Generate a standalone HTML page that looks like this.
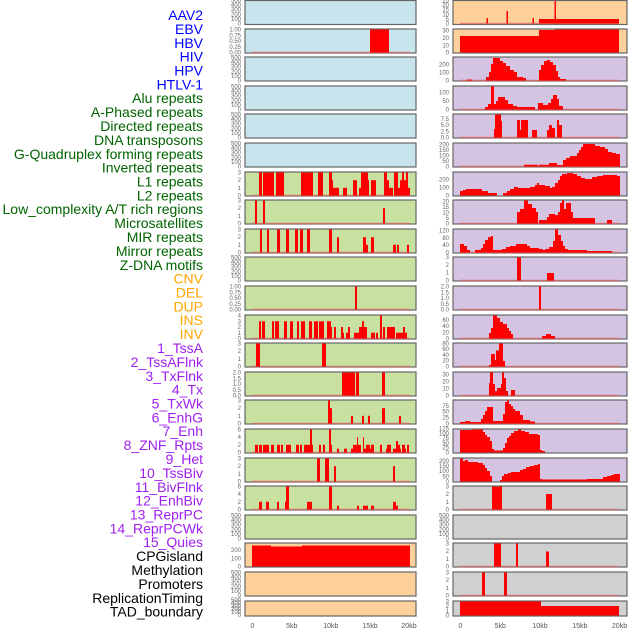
<!DOCTYPE html>
<html><head><meta charset="utf-8"><style>
html,body{margin:0;padding:0;background:#fff}
svg{display:block}
.l{font-family:"Liberation Sans",sans-serif;font-size:14px;text-anchor:end}
.t{font-family:"Liberation Sans",sans-serif;font-size:6px;fill:#666;text-anchor:end}
.x{font-family:"Liberation Sans",sans-serif;font-size:7px;fill:#555;text-anchor:middle}
.b{fill:#0000ff}.g{fill:#006400}.o{fill:#ffa500}.p{fill:#a020f0}.k{fill:#000}
.pb{stroke:#666;stroke-width:1.2}
.cb{fill:#c8e4ec}.cg{fill:#c8e0a0}.co{fill:#fdd09c}.cp{fill:#d5c4e1}.cy{fill:#d0d0d0}
.r{fill:#ff0000}
.bl{stroke:#e06060;stroke-width:1.5;opacity:.7}
</style></head><body>
<svg width="630" height="630" viewBox="0 0 630 630" xmlns="http://www.w3.org/2000/svg">
<!-- labels -->
<g class="l">
<text x="203" y="20" class="b">AAV2</text>
<text x="203" y="34" class="b">EBV</text>
<text x="203" y="48" class="b">HBV</text>
<text x="203" y="61.5" class="b">HIV</text>
<text x="203" y="75.5" class="b">HPV</text>
<text x="203" y="89.5" class="b">HTLV-1</text>
<text x="203" y="103" class="g">Alu repeats</text>
<text x="203" y="117" class="g">A-Phased repeats</text>
<text x="203" y="131" class="g">Directed repeats</text>
<text x="203" y="145" class="g">DNA transposons</text>
<text x="203" y="159" class="g">G-Quadruplex forming repeats</text>
<text x="203" y="172.5" class="g">Inverted repeats</text>
<text x="203" y="186.5" class="g">L1 repeats</text>
<text x="203" y="200.5" class="g">L2 repeats</text>
<text x="203" y="214" class="g">Low_complexity A/T rich regions</text>
<text x="203" y="228" class="g">Microsatellites</text>
<text x="203" y="242" class="g">MIR repeats</text>
<text x="203" y="256" class="g">Mirror repeats</text>
<text x="203" y="270" class="g">Z-DNA motifs</text>
<text x="203" y="283.5" class="o">CNV</text>
<text x="203" y="297.5" class="o">DEL</text>
<text x="203" y="311.5" class="o">DUP</text>
<text x="203" y="325" class="o">INS</text>
<text x="203" y="339" class="o">INV</text>
<text x="203" y="353" class="p">1_TssA</text>
<text x="203" y="367" class="p">2_TssAFlnk</text>
<text x="203" y="381" class="p">3_TxFlnk</text>
<text x="203" y="394.5" class="p">4_Tx</text>
<text x="203" y="408.5" class="p">5_TxWk</text>
<text x="203" y="422.5" class="p">6_EnhG</text>
<text x="203" y="436" class="p">7_Enh</text>
<text x="203" y="450" class="p">8_ZNF_Rpts</text>
<text x="203" y="464" class="p">9_Het</text>
<text x="203" y="478" class="p">10_TssBiv</text>
<text x="203" y="492" class="p">11_BivFlnk</text>
<text x="203" y="505.5" class="p">12_EnhBiv</text>
<text x="203" y="519.5" class="p">13_ReprPC</text>
<text x="203" y="533.5" class="p">14_ReprPCWk</text>
<text x="203" y="547" class="p">15_Quies</text>
<text x="203" y="561" class="k">CPGisland</text>
<text x="203" y="575" class="k">Methylation</text>
<text x="203" y="589" class="k">Promoters</text>
<text x="203" y="603" class="k">ReplicationTiming</text>
<text x="203" y="616.5" class="k">TAD_boundary</text>
</g>

<!-- left panel backgrounds -->
<g class="pb">
<rect x="245" y="0.5" width="171" height="24" class="cb"/>
<rect x="245" y="29" width="171" height="24" class="cb"/>
<rect x="245" y="57" width="171" height="24" class="cb"/>
<rect x="245" y="86" width="171" height="24" class="cb"/>
<rect x="245" y="114" width="171" height="24" class="cb"/>
<rect x="245" y="143" width="171" height="24" class="cb"/>
<rect x="245" y="172" width="171" height="24" class="cg"/>
<rect x="245" y="200" width="171" height="24" class="cg"/>
<rect x="245" y="229" width="171" height="24" class="cg"/>
<rect x="245" y="257" width="171" height="24" class="cg"/>
<rect x="245" y="286" width="171" height="24" class="cg"/>
<rect x="245" y="315" width="171" height="24" class="cg"/>
<rect x="245" y="343" width="171" height="24" class="cg"/>
<rect x="245" y="372" width="171" height="24" class="cg"/>
<rect x="245" y="400" width="171" height="24" class="cg"/>
<rect x="245" y="429" width="171" height="24" class="cg"/>
<rect x="245" y="458" width="171" height="24" class="cg"/>
<rect x="245" y="486" width="171" height="24" class="cg"/>
<rect x="245" y="515" width="171" height="24" class="cg"/>
<rect x="245" y="543" width="171" height="24" class="co"/>
<rect x="245" y="572" width="171" height="24" class="co"/>
<rect x="245" y="601" width="171" height="15" class="co"/>
</g>
<!-- right panel backgrounds -->
<g class="pb">
<rect x="453" y="0.5" width="174" height="24" class="co"/>
<rect x="453" y="29" width="174" height="24" class="co"/>
<rect x="453" y="57" width="174" height="24" class="cp"/>
<rect x="453" y="86" width="174" height="24" class="cp"/>
<rect x="453" y="114" width="174" height="24" class="cp"/>
<rect x="453" y="143" width="174" height="24" class="cp"/>
<rect x="453" y="172" width="174" height="24" class="cp"/>
<rect x="453" y="200" width="174" height="24" class="cp"/>
<rect x="453" y="229" width="174" height="24" class="cp"/>
<rect x="453" y="257" width="174" height="24" class="cp"/>
<rect x="453" y="286" width="174" height="24" class="cp"/>
<rect x="453" y="315" width="174" height="24" class="cp"/>
<rect x="453" y="343" width="174" height="24" class="cp"/>
<rect x="453" y="372" width="174" height="24" class="cp"/>
<rect x="453" y="400" width="174" height="24" class="cp"/>
<rect x="453" y="429" width="174" height="24" class="cp"/>
<rect x="453" y="458" width="174" height="24" class="cp"/>
<rect x="453" y="486" width="174" height="24" class="cy"/>
<rect x="453" y="515" width="174" height="24" class="cy"/>
<rect x="453" y="543" width="174" height="24" class="cy"/>
<rect x="453" y="572" width="174" height="24" class="cy"/>
<rect x="453" y="601" width="174" height="15" class="cy"/>
</g>

<!-- baselines -->
<g class="bl">
<line x1="252" x2="410" y1="52.5" y2="52.5"/>
<line x1="252" x2="410" y1="195.5" y2="195.5"/>
<line x1="252" x2="410" y1="223.5" y2="223.5"/>
<line x1="252" x2="410" y1="252.5" y2="252.5"/>
<line x1="252" x2="410" y1="309.5" y2="309.5"/>
<line x1="252" x2="410" y1="338.5" y2="338.5"/>
<line x1="252" x2="410" y1="366.5" y2="366.5"/>
<line x1="252" x2="410" y1="395.5" y2="395.5"/>
<line x1="252" x2="410" y1="423.5" y2="423.5"/>
<line x1="252" x2="410" y1="452.5" y2="452.5"/>
<line x1="252" x2="410" y1="481.5" y2="481.5"/>
<line x1="252" x2="410" y1="509.5" y2="509.5"/>
<line x1="460" x2="619" y1="23.5" y2="23.5"/>
<line x1="460" x2="619" y1="80.5" y2="80.5"/>
<line x1="460" x2="619" y1="109.5" y2="109.5"/>
<line x1="460" x2="619" y1="137.5" y2="137.5"/>
<line x1="460" x2="619" y1="166.5" y2="166.5"/>
<line x1="460" x2="619" y1="223.5" y2="223.5"/>
<line x1="460" x2="619" y1="252.5" y2="252.5"/>
<line x1="460" x2="619" y1="280.5" y2="280.5"/>
<line x1="460" x2="619" y1="309.5" y2="309.5"/>
<line x1="460" x2="619" y1="338.5" y2="338.5"/>
<line x1="460" x2="619" y1="366.5" y2="366.5"/>
<line x1="460" x2="619" y1="395.5" y2="395.5"/>
<line x1="460" x2="619" y1="423.5" y2="423.5"/>
<line x1="460" x2="619" y1="509.5" y2="509.5"/>
<line x1="460" x2="619" y1="566.5" y2="566.5"/>
<line x1="460" x2="619" y1="595.5" y2="595.5"/>
</g>

<!-- LEFT DATA -->
<g class="r">
<!-- EBV -->
<rect x="370" y="29.5" width="19" height="23"/>
<!-- row6 (top172,B195.5, unit7.67) -->
<rect x="259" y="172.5" width="3" height="23"/>
<rect x="263" y="172.5" width="11" height="23"/>
<rect x="276" y="172.5" width="8" height="23"/>
<rect x="301" y="172.5" width="12" height="23"/>
<rect x="318" y="172.5" width="5" height="23"/>
<rect x="329" y="172.5" width="3" height="23"/>
<rect x="332" y="180.2" width="1" height="15.3"/>
<rect x="333" y="187.8" width="6" height="7.7"/>
<rect x="343" y="187.8" width="4" height="7.7"/>
<rect x="353" y="180.2" width="4" height="15.3"/>
<rect x="359" y="187.8" width="2" height="7.7"/>
<rect x="361" y="172.5" width="7" height="23"/>
<rect x="368" y="180.2" width="1" height="15.3"/>
<rect x="371" y="180.2" width="5" height="15.3"/>
<rect x="384" y="172.5" width="3" height="23"/>
<rect x="387" y="180.2" width="2" height="15.3"/>
<rect x="389" y="187.8" width="4" height="7.7"/>
<rect x="394" y="172.5" width="4" height="23"/>
<rect x="398" y="187.8" width="2" height="7.7"/>
<rect x="400" y="180.2" width="2" height="15.3"/>
<rect x="402" y="172.5" width="2" height="23"/>
<rect x="404" y="180.2" width="2" height="15.3"/>
<rect x="406" y="172.5" width="2" height="23"/>
<rect x="408" y="187.8" width="2" height="7.7"/>
<!-- row7 -->
<rect x="255" y="200.5" width="2" height="23"/>
<rect x="263" y="200.5" width="2" height="23"/>
<rect x="383" y="208.2" width="2" height="15.3"/>
<!-- row8 -->
<rect x="260" y="229.5" width="2" height="23"/>
<rect x="267" y="229.5" width="2" height="23"/>
<rect x="277" y="229.5" width="3" height="23"/>
<rect x="286" y="229.5" width="3" height="23"/>
<rect x="295" y="229.5" width="3" height="23"/>
<rect x="300" y="229.5" width="3" height="23"/>
<rect x="307" y="229.5" width="3" height="23"/>
<rect x="329" y="229.5" width="3" height="23"/>
<rect x="337" y="237.2" width="2" height="15.3"/>
<rect x="363" y="237.2" width="3" height="15.3"/>
<rect x="366" y="244.8" width="2" height="7.7"/>
<rect x="371" y="237.2" width="3" height="15.3"/>
<rect x="393" y="244.8" width="3" height="7.7"/>
<rect x="397" y="244.8" width="2" height="7.7"/>
<rect x="407" y="244.8" width="2" height="7.7"/>
<!-- row10 -->
<rect x="355" y="286.5" width="2" height="23"/>
<!-- row11 (top315,B338.5,unit5.75) -->
<rect x="259" y="321.25" width="2" height="17.25"/>
<rect x="262" y="321.25" width="3" height="17.25"/>
<rect x="272" y="321.25" width="2" height="17.25"/>
<rect x="275" y="321.25" width="4" height="17.25"/>
<rect x="284" y="321.25" width="3" height="17.25"/>
<rect x="290" y="321.25" width="3" height="17.25"/>
<rect x="297" y="321.25" width="2" height="17.25"/>
<rect x="301" y="321.25" width="4" height="17.25"/>
<rect x="309" y="321.25" width="3" height="17.25"/>
<rect x="314" y="321.25" width="4" height="17.25"/>
<rect x="319" y="321.25" width="5" height="17.25"/>
<rect x="327" y="321.25" width="4" height="17.25"/>
<rect x="331" y="327" width="1" height="11.5"/>
<rect x="334" y="327" width="2" height="11.5"/>
<rect x="341" y="327" width="2" height="11.5"/>
<rect x="343" y="332.75" width="1" height="5.75"/>
<rect x="346" y="332.75" width="2" height="5.75"/>
<rect x="348" y="327" width="2" height="11.5"/>
<rect x="354" y="332.75" width="2" height="5.75"/>
<rect x="356" y="332.75" width="3" height="5.75"/>
<rect x="359" y="327" width="3" height="11.5"/>
<rect x="362" y="321.25" width="2" height="17.25"/>
<rect x="364" y="327" width="3" height="11.5"/>
<rect x="371" y="332.75" width="4" height="5.75"/>
<rect x="376" y="332.75" width="2" height="5.75"/>
<rect x="380" y="315.5" width="2" height="23"/>
<rect x="383" y="327" width="2" height="11.5"/>
<rect x="387" y="327" width="8" height="11.5"/>
<rect x="396" y="332.75" width="7" height="5.75"/>
<rect x="403" y="327" width="2" height="11.5"/>
<rect x="405" y="332.75" width="2" height="5.75"/>
<!-- row12 -->
<rect x="256" y="343.5" width="4" height="23"/>
<rect x="322" y="343.5" width="4" height="23"/>
<!-- row13 -->
<rect x="342" y="372.5" width="13" height="23"/>
<rect x="356" y="372.5" width="3" height="23"/>
<rect x="382" y="372.5" width="3" height="23"/>
<!-- row14 -->
<rect x="328" y="400.5" width="2" height="23"/>
<rect x="330" y="408.2" width="2" height="15.3"/>
<rect x="351" y="415.8" width="2" height="7.7"/>
<rect x="362" y="415.8" width="2" height="7.7"/>
<rect x="368" y="415.8" width="2" height="7.7"/>
<rect x="382" y="408.2" width="3" height="15.3"/>
<rect x="399" y="415.8" width="2" height="7.7"/>
<!-- row15 (top429,B452.5,unit3.83) -->
<rect x="255" y="444.8" width="3" height="7.7"/>
<rect x="259" y="444.8" width="3" height="7.7"/>
<rect x="263" y="444.8" width="6" height="7.7"/>
<rect x="271" y="444.8" width="3" height="7.7"/>
<rect x="277" y="444.8" width="3" height="7.7"/>
<rect x="281" y="444.8" width="2" height="7.7"/>
<rect x="286" y="444.8" width="5" height="7.7"/>
<rect x="296" y="444.8" width="3" height="7.7"/>
<rect x="300" y="444.8" width="2" height="7.7"/>
<rect x="304" y="444.8" width="6" height="7.7"/>
<rect x="310" y="429.5" width="2" height="23"/>
<rect x="312" y="444.8" width="1" height="7.7"/>
<rect x="319" y="444.8" width="2" height="7.7"/>
<rect x="323" y="444.8" width="2" height="7.7"/>
<rect x="329" y="429.5" width="2" height="23"/>
<rect x="331" y="444.8" width="1" height="7.7"/>
<rect x="337" y="448.7" width="2" height="3.8"/>
<rect x="344" y="448.7" width="3" height="3.8"/>
<rect x="351" y="448.7" width="2" height="3.8"/>
<rect x="353" y="444.8" width="4" height="7.7"/>
<rect x="357" y="437.2" width="1" height="15.3"/>
<rect x="358" y="444.8" width="3" height="7.7"/>
<rect x="363" y="437.2" width="1" height="15.3"/>
<rect x="364" y="448.7" width="2" height="3.8"/>
<rect x="366" y="444.8" width="4" height="7.7"/>
<rect x="370" y="448.7" width="1" height="3.8"/>
<rect x="371" y="444.8" width="3" height="7.7"/>
<rect x="380" y="444.8" width="2" height="7.7"/>
<rect x="386" y="448.7" width="1" height="3.8"/>
<rect x="387" y="444.8" width="4" height="7.7"/>
<rect x="393" y="448.7" width="3" height="3.8"/>
<rect x="396" y="441" width="2" height="11.5"/>
<rect x="398" y="444.8" width="2" height="7.7"/>
<rect x="400" y="448.7" width="1" height="3.8"/>
<rect x="402" y="444.8" width="3" height="7.7"/>
<rect x="405" y="448.7" width="1" height="3.8"/>
<rect x="407" y="444.8" width="2" height="7.7"/>
<!-- row16 -->
<rect x="317" y="458.5" width="3" height="23"/>
<rect x="325" y="458.5" width="4" height="23"/>
<rect x="334" y="466.2" width="2" height="15.3"/>
<rect x="393" y="466.2" width="2" height="15.3"/>
<!-- row17 (top486,B509.5,unit3.83) -->
<rect x="259" y="501.8" width="3" height="7.7"/>
<rect x="266" y="501.8" width="3" height="7.7"/>
<rect x="277" y="501.8" width="2" height="7.7"/>
<rect x="285" y="501.8" width="1" height="7.7"/>
<rect x="286" y="486.5" width="3" height="23"/>
<rect x="307" y="501.8" width="5" height="7.7"/>
<rect x="329" y="486.5" width="3" height="23"/>
<rect x="337" y="505.7" width="2" height="3.8"/>
<rect x="357" y="505.7" width="2" height="3.8"/>
<rect x="363" y="505.7" width="3" height="3.8"/>
<rect x="366" y="505.7" width="2" height="3.8"/>
<rect x="371" y="505.7" width="3" height="3.8"/>
<rect x="393" y="501.8" width="3" height="7.7"/>
<rect x="396" y="505.7" width="2" height="3.8"/>
<!-- row19 CPG -->
<rect x="252" y="545.5" width="158" height="21"/>
</g>
<rect x="271" y="545.5" width="31" height="1" fill="#fdd09c"/>

<!-- RIGHT DATA -->
<g class="r">
<rect x="539" y="19" width="80" height="4.5"/>
<rect x="486.5" y="18" width="1.5" height="5.5"/>
<rect x="506.5" y="11" width="1.5" height="12.5"/>
<rect x="532.5" y="18" width="1.5" height="5.5"/>
<rect x="554.5" y="1" width="1.5" height="22.5"/>
<polygon points="460,52.5 460,36 539,36 539,30 555,30 555,29.5 619,29.5 619,52.5"/>
<polygon points="467,80.5 467,79.5 472,79.5 472,80.5 486,80.5 486,77 489,77 489,72 491,72 491,64 493,64 493,58 500,58 500,61 503,61 503,63 506,63 506,66 510,66 510,70 514,70 514,72 517,72 517,77 523,77 523,78 526,78 526,80.5 539,80.5 539,70 541,70 541,65 544,65 544,61 547,61 547,60 550,60 550,62 553,62 553,65 556,65 556,71 558,71 558,77 560,77 560,79 566,79 566,80.5"/>
<polygon points="485,109.5 485,107 488,107 488,104 491,104 491,86.5 494,86.5 494,104 496,104 496,101 498,101 498,97 505,97 505,100 508,100 508,104 513,104 513,106 517,106 517,107 535,107 535,109.5 538,109.5 538,103 543,103 543,105 548,105 548,103 551,103 551,99 553,99 553,95 557,95 557,99 559,99 559,106 563,106 563,109.5"/>
<polygon points="494,137.5 494,129 495,129 495,114.5 501,114.5 501,121 502,121 502,137.5 517,137.5 517,120 520,120 520,130 521,130 521,120 528,120 528,137.5 532,137.5 532,130 537,130 537,137.5 547,137.5 547,130 549,130 549,125 552,125 552,128 555,128 555,137.5 557,137.5 557,120 559,120 559,125 562,125 562,137.5"/>
<polygon points="524,166.5 524,164.8 538,164.8 538,166 539,166 539,164.8 549,164.8 549,163 557,163 557,165 563,165 563,160 566,160 566,158 570,158 570,156 577,156 577,153 579,153 579,150 581,150 581,147 583,147 583,144 595,144 595,146 600,146 600,147 605,147 605,149 608,149 608,152 612,152 612,153 616,153 616,154 620,154 620,166.5"/>
<polygon points="460,195.5 460,191 463,191 463,190 466,190 466,189 482,189 482,191 488,191 488,193 497,193 497,195.5 503,195.5 503,193 507,193 507,191 510,191 510,189 514,189 514,187 518,187 518,188 530,188 530,187 535,187 535,185 537,185 537,183 539,183 539,185 545,185 545,186 550,186 550,188 552,188 552,187 555,187 555,183 558,183 558,180 560,180 560,176 562,176 562,174 567,174 567,173 573,173 573,174 577,174 577,176 581,176 581,178 585,178 585,179 592,179 592,177 597,177 597,176 603,176 603,175 617,175 617,176 620,176 620,195.5"/>
<polygon points="517,223.5 517,212 520,212 520,209 524,209 524,200.5 528,200.5 528,204 532,204 532,208 536,208 536,212 538,212 538,223.5 539,223.5 539,220 547,220 547,217 549,217 549,214 555,214 555,215 558,215 558,212 560,212 560,203 562,203 562,200.5 564,200.5 564,209 566,209 566,203 571,203 571,212 573,212 573,218 595,218 595,223.5 607,223.5 607,220 612,220 612,223.5"/>
<polygon points="460,252.5 460,244 464,244 464,246 467,246 467,250 470,250 470,252.5 475,252.5 475,250 481,250 481,248 483,248 483,244 485,244 485,240 488,240 488,237 491,237 491,236 493,236 493,250 502,250 502,249 506,249 506,247 510,247 510,246 516,246 516,244 527,244 527,246 530,246 530,248 539,248 539,249 543,249 543,250 545,250 545,249 549,249 549,247 553,247 553,241 555,241 555,229.5 558,229.5 558,235 561,235 561,241 563,241 563,246 565,246 565,249 568,249 568,250 587,250 587,251 612,251 612,252.5"/>
<rect x="517" y="257.5" width="4" height="23"/>
<rect x="547" y="273" width="7" height="7.5"/>
<rect x="539" y="286.5" width="2" height="23"/>
<polygon points="489,338.5 489,333 491,333 491,328 493,328 493,315.5 497,315.5 497,318 500,318 500,322 503,322 503,324 507,324 507,328 509,328 509,331 511,331 511,334 513,334 513,338.5 542,338.5 542,336 546,336 546,334 551,334 551,336 555,336 555,338.5"/>
<polygon points="489,366.5 489,365 491,365 491,354 495,354 495,360 496,360 496,350.5 499,350.5 499,343.5 503,343.5 503,361 505,361 505,366.5"/>
<polygon points="489,395.5 489,383 490,383 490,372.5 493,372.5 493,384 495,384 495,391 497,391 497,388 501,388 501,384 502,384 502,372.5 504,372.5 504,378 506,378 506,391 508,391 508,395.5 511,395.5 511,390 515,390 515,395.5"/>
<polygon points="460,423.5 460,422 465,422 465,421 470,421 470,422 481,422 481,419 483,419 483,415 485,415 485,411 487,411 487,407 493,407 493,421 503,421 503,414 505,414 505,402 507,402 507,400.5 509,400.5 509,404 511,404 511,406 513,406 513,409 515,409 515,411 520,411 520,415 523,415 523,420 530,420 530,421.5 535,421.5 535,423.5"/>
<polygon points="460,452.5 460,430 472,430 472,429.5 483,429.5 483,432 485,432 485,435 487,435 487,437 490,437 490,441 492,441 492,449 494,449 494,450.5 503,450.5 503,448 505,448 505,443 507,443 507,438 509,438 509,436 511,436 511,433 514,433 514,431 518,431 518,429.5 521,429.5 521,431 525,431 525,432 529,432 529,434 538,434 538,435 540,435 540,450 542,450 542,451 545,451 545,452.5"/>
<polygon points="460,481.5 460,458.5 463,458.5 463,461 465,461 465,460 468,460 468,462 478,462 478,463 483,463 483,465 485,465 485,468 487,468 487,471 490,471 490,476 492,476 492,481.5 500,481.5 500,480 502,480 502,476 504,476 504,474 508,474 508,473 511,473 511,472 520,472 520,470 523,470 523,469 526,469 526,467 530,467 530,466 534,466 534,465 538,465 538,464 540,464 540,479 542,479 542,479.5 587,479.5 587,479 603,479 603,477 607,477 607,476 611,476 611,475 614,475 614,474 620,474 620,481.5"/>
<rect x="492" y="486.5" width="10" height="23"/>
<rect x="546" y="494" width="6" height="15.5"/>
<rect x="494" y="543.5" width="7" height="23"/>
<rect x="516" y="543.5" width="2" height="23"/>
<rect x="546" y="551.5" width="3" height="15"/>
<rect x="482" y="572.5" width="3" height="23"/>
<rect x="504" y="572.5" width="3" height="23"/>
<rect x="460" y="601.5" width="81" height="14"/>
<rect x="541" y="606" width="78" height="9.5"/>
</g>

<!-- LEFT TICKS -->
<g class="t">
<!-- 0-500 rows: tops 0(B23.5),57,86,114,143,257,515,572 -->
<text x="241" y="25.5">0</text><text x="241" y="21">100</text><text x="241" y="16.3">200</text><text x="241" y="11.7">300</text><text x="241" y="7.1">400</text><text x="241" y="2.5">500</text>
<text x="241" y="82.5">0</text><text x="241" y="78">100</text><text x="241" y="73.3">200</text><text x="241" y="68.7">300</text><text x="241" y="64.1">400</text><text x="241" y="59.5">500</text>
<text x="241" y="111.5">0</text><text x="241" y="107">100</text><text x="241" y="102.3">200</text><text x="241" y="97.7">300</text><text x="241" y="93.1">400</text><text x="241" y="88.5">500</text>
<text x="241" y="139.5">0</text><text x="241" y="135">100</text><text x="241" y="130.3">200</text><text x="241" y="125.7">300</text><text x="241" y="121.1">400</text><text x="241" y="116.5">500</text>
<text x="241" y="168.5">0</text><text x="241" y="164">100</text><text x="241" y="159.3">200</text><text x="241" y="154.7">300</text><text x="241" y="150.1">400</text><text x="241" y="145.5">500</text>
<text x="241" y="282.5">0</text><text x="241" y="278">100</text><text x="241" y="273.3">200</text><text x="241" y="268.7">300</text><text x="241" y="264.1">400</text><text x="241" y="259.5">500</text>
<text x="241" y="540.5">0</text><text x="241" y="536">100</text><text x="241" y="531.3">200</text><text x="241" y="526.7">300</text><text x="241" y="522.1">400</text><text x="241" y="517.5">500</text>
<text x="241" y="597.5">0</text><text x="241" y="593">100</text><text x="241" y="588.3">200</text><text x="241" y="583.7">300</text><text x="241" y="579.1">400</text><text x="241" y="574.5">500</text>
<text x="241" y="617">0</text><text x="241" y="614">100</text><text x="241" y="611">200</text><text x="241" y="608">300</text><text x="241" y="605">400</text><text x="241" y="602">500</text>
<!-- EBV 0-1 -->
<text x="241" y="54.5">0.00</text><text x="241" y="48.8">0.25</text><text x="241" y="43">0.50</text><text x="241" y="37.3">0.75</text><text x="241" y="31.5">1.00</text>
<!-- row10 0-1 -->
<text x="241" y="311.5">0.00</text><text x="241" y="305.8">0.25</text><text x="241" y="300">0.50</text><text x="241" y="294.3">0.75</text><text x="241" y="288.5">1.00</text>
<!-- 0-3 rows: 172,200,229,343,400,458 -->
<text x="241" y="197.5">0</text><text x="241" y="189.8">1</text><text x="241" y="182.2">2</text><text x="241" y="174.5">3</text>
<text x="241" y="225.5">0</text><text x="241" y="217.8">1</text><text x="241" y="210.2">2</text><text x="241" y="202.5">3</text>
<text x="241" y="254.5">0</text><text x="241" y="246.8">1</text><text x="241" y="239.2">2</text><text x="241" y="231.5">3</text>
<text x="241" y="368.5">0</text><text x="241" y="360.8">1</text><text x="241" y="353.2">2</text><text x="241" y="345.5">3</text>
<text x="241" y="425.5">0</text><text x="241" y="417.8">1</text><text x="241" y="410.2">2</text><text x="241" y="402.5">3</text>
<text x="241" y="483.5">0</text><text x="241" y="475.8">1</text><text x="241" y="468.2">2</text><text x="241" y="460.5">3</text>
<!-- row11 0-4 -->
<text x="241" y="340.5">0</text><text x="241" y="334.8">1</text><text x="241" y="329">2</text><text x="241" y="323.3">3</text><text x="241" y="317.5">4</text>
<!-- row13 0-2 -->
<text x="241" y="397.5">0.0</text><text x="241" y="391.8">0.5</text><text x="241" y="386">1.0</text><text x="241" y="380.3">1.5</text><text x="241" y="374.5">2.0</text>
<!-- 0-6 rows 429,486 -->
<text x="241" y="454.5">0</text><text x="241" y="446.8">2</text><text x="241" y="439.2">4</text><text x="241" y="431.5">6</text>
<text x="241" y="511.5">0</text><text x="241" y="503.8">2</text><text x="241" y="496.2">4</text><text x="241" y="488.5">6</text>
<!-- CPG -->
<text x="241" y="568.5">0</text><text x="241" y="560.3">100</text><text x="241" y="552.1">200</text>
</g>

<!-- RIGHT TICKS -->
<g class="t">
<text x="449" y="25.5">0</text><text x="449" y="20.9">5</text><text x="449" y="16.3">10</text><text x="449" y="11.7">15</text><text x="449" y="7.1">20</text><text x="449" y="2.5">25</text>
<text x="449" y="54.5">0</text><text x="449" y="47.5">10</text><text x="449" y="40">20</text><text x="449" y="32.5">30</text>
<text x="449" y="82.5">0</text><text x="449" y="74.5">100</text><text x="449" y="66.5">200</text>
<text x="449" y="111.5">0</text><text x="449" y="103">50</text><text x="449" y="94.5">100</text>
<text x="449" y="139.5">0.0</text><text x="449" y="133.3">2.5</text><text x="449" y="127">5.0</text><text x="449" y="120.8">7.5</text>
<text x="449" y="168.5">0</text><text x="449" y="162.9">50</text><text x="449" y="157.4">100</text><text x="449" y="151.8">150</text><text x="449" y="146.3">200</text>
<text x="449" y="197.5">0</text><text x="449" y="189.5">100</text><text x="449" y="181.5">200</text>
<text x="449" y="225.5">0</text><text x="449" y="220">5</text><text x="449" y="214.5">10</text><text x="449" y="209">15</text><text x="449" y="203.5">20</text>
<text x="449" y="254.5">0</text><text x="449" y="247.2">40</text><text x="449" y="239.9">80</text><text x="449" y="232.5">120</text>
<text x="449" y="282.5">0</text><text x="449" y="274.7">1</text><text x="449" y="266.9">2</text><text x="449" y="259.1">3</text>
<text x="449" y="311.5">0.0</text><text x="449" y="305.8">0.5</text><text x="449" y="300">1.0</text><text x="449" y="294.3">1.5</text><text x="449" y="288.5">2.0</text>
<text x="449" y="340.5">0</text><text x="449" y="334.3">20</text><text x="449" y="328.1">40</text><text x="449" y="321.9">60</text>
<text x="449" y="368.5">0</text><text x="449" y="362.7">20</text><text x="449" y="356.9">40</text><text x="449" y="351.1">60</text><text x="449" y="345.3">80</text>
<text x="449" y="397.5">0</text><text x="449" y="390.5">10</text><text x="449" y="383.5">20</text><text x="449" y="376.5">30</text>
<text x="449" y="425.5">0</text><text x="449" y="419.6">25</text><text x="449" y="413.7">50</text><text x="449" y="407.8">75</text>
<text x="449" y="454.5">0</text><text x="449" y="449.7">25</text><text x="449" y="444.9">50</text><text x="449" y="440.1">75</text><text x="449" y="435.3">100</text><text x="449" y="430.5">125</text>
<text x="449" y="483.5">0</text><text x="449" y="478.3">50</text><text x="449" y="473.2">100</text><text x="449" y="468">150</text><text x="449" y="462.9">200</text>
<text x="449" y="511.5">0</text><text x="449" y="503.8">1</text><text x="449" y="496.2">2</text><text x="449" y="488.5">3</text>
<text x="449" y="540.5">0</text><text x="449" y="536">100</text><text x="449" y="531.3">200</text><text x="449" y="526.7">300</text><text x="449" y="522.1">400</text><text x="449" y="517.5">500</text>
<text x="449" y="568.5">0</text><text x="449" y="560.8">1</text><text x="449" y="553.2">2</text><text x="449" y="545.5">3</text>
<text x="449" y="597.5">0</text><text x="449" y="589.8">1</text><text x="449" y="582.2">2</text><text x="449" y="574.5">3</text>
<text x="449" y="617.5">0</text><text x="449" y="612.8">1</text><text x="449" y="608.2">2</text><text x="449" y="603.5">3</text>
</g>

<!-- x axis -->
<g class="x">
<text x="252.5" y="628">0</text><text x="291.7" y="628">5kb</text><text x="330.8" y="628">10kb</text><text x="370" y="628">15kb</text><text x="409" y="628">20kb</text>
<text x="460.5" y="628">0</text><text x="500.3" y="628">5kb</text><text x="540" y="628">10kb</text><text x="579.8" y="628">15kb</text><text x="619.5" y="628">20kb</text>
</g>
</svg>
</body></html>
